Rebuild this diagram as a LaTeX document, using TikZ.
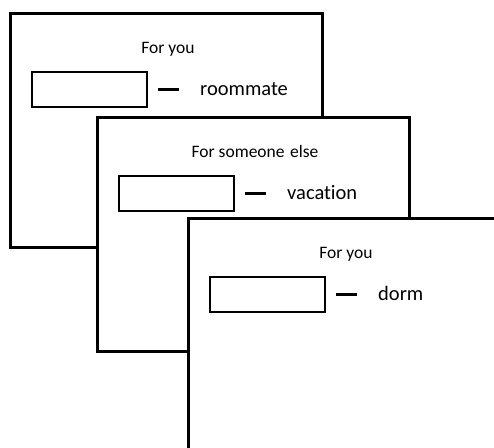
\documentclass[tikz,border=0pt]{standalone}
\usepackage{fontspec}
\setmainfont[Ligatures=NoCommon]{Carlito}
\begin{document}
\begin{tikzpicture}[x=1pt, y=-1pt, line join=miter]
	\tikzset{card/.style={draw, fill=white, line width=3pt, outer sep=0pt, minimum width=312pt, minimum height=234pt, anchor=north west},
		answer/.style={draw, line width=2.4pt, minimum width=115pt, minimum height=35pt, inner sep=0pt},
		heading/.style={anchor=base, inner sep=0pt, font=\fontsize{17.5}{20}\selectfont},
		cue/.style={anchor=base west, inner sep=0pt, font=\fontsize{20.5}{24}\selectfont},
		link/.style={line width=2.6pt, shorten <=10pt, shorten >=21pt}}
	\useasboundingbox (0,0) rectangle (494,447);
	\clip (0,0) rectangle (494,447);
	% first card
	\node[card] (card1) at (10,13) {};
	\node[heading] (head1) at ([shift={(158,40)}]card1.north west) {For you};
	\node[answer] (box1) at ([shift={(79.5,76.5)}]card1.north west) {};
	\node[cue] (cue1) at ([shift={(190,82)}]card1.north west) {roommate};
	\draw[link] (box1.east) -- (box1.east -| cue1.west);
	% second card
	\node[card] (card2) at (97,117) {};
	\node[heading] (head2) at ([shift={(158,40)}]card2.north west) {For someone\hspace{1.5pt} else};
	\node[answer] (box2) at ([shift={(79.5,76.5)}]card2.north west) {};
	\node[cue] (cue2) at ([shift={(190,82)}]card2.north west) {vacation};
	\draw[link] (box2.east) -- (box2.east -| cue2.west);
	% third card, cut off by the frame
	\node[card] (card3) at (188,218) {};
	\node[heading] (head3) at ([shift={(158,40)}]card3.north west) {For you};
	\node[answer] (box3) at ([shift={(79.5,76.5)}]card3.north west) {};
	\node[cue] (cue3) at ([shift={(190,82)}]card3.north west) {dorm};
	\draw[link] (box3.east) -- (box3.east -| cue3.west);
\end{tikzpicture}
\end{document}
